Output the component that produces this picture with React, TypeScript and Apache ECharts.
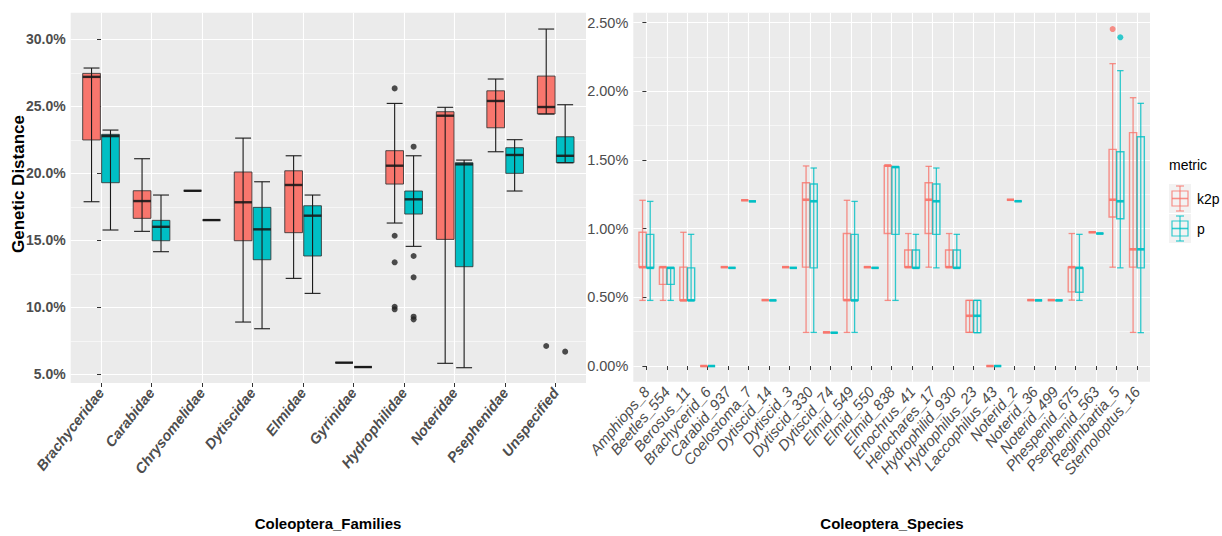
import React, { useEffect, useRef } from "react";
import * as echarts from "echarts";

// ---------- DATA ----------
const families = [
  "Brachyceridae", "Carabidae", "Chrysomelidae", "Dytiscidae", "Elmidae",
  "Gyrinidae", "Hydrophilidae", "Noteridae", "Psephenidae", "Unspecified",
];
// [min, q1, median, q3, max] in %
const familyK2p = [
  [17.88, 22.49, 27.2, 27.46, 27.86],
  [15.67, 16.64, 17.93, 18.7, 21.09],
  [18.7, 18.7, 18.7, 18.7, 18.7],
  [8.9, 14.97, 17.84, 20.1, 22.63],
  [12.16, 15.57, 19.13, 20.19, 21.31],
  [5.87, 5.87, 5.87, 5.87, 5.87],
  [16.29, 19.2, 20.57, 21.69, 25.22],
  [5.82, 15.07, 24.3, 24.6, 24.93],
  [21.61, 23.4, 25.4, 26.16, 27.04],
  [24.43, 24.43, 24.95, 27.26, 30.77],
];
const familyP = [
  [15.77, 19.3, 22.78, 22.91, 23.23],
  [14.15, 14.97, 16.01, 16.49, 18.38],
  [16.51, 16.51, 16.51, 16.51, 16.51],
  [8.4, 13.55, 15.82, 17.46, 19.37],
  [11.04, 13.83, 16.84, 17.58, 18.38],
  [5.54, 5.54, 5.54, 5.54, 5.54],
  [14.55, 16.96, 18.06, 18.68, 21.31],
  [5.49, 13.03, 20.67, 20.79, 20.99],
  [18.68, 20.0, 21.37, 21.91, 22.51],
  [20.79, 20.79, 21.31, 22.73, 25.12],
];
// [category index, value]
const familyOutK2p = [[6, 26.34], [6, 15.34], [6, 13.36], [6, 10.04], [6, 9.85], [9, 7.11]];
const familyOutP = [[6, 21.99], [6, 13.83], [6, 12.24], [6, 9.3], [6, 9.1], [9, 6.69]];

const species = [
  "Amphiops_8", "Beetles_554", "Berosus_11", "Brachycerid_6", "Carabid_937",
  "Coelostoma_7", "Dytiscid_14", "Dytiscid_3", "Dytiscid_330", "Dytiscid_74",
  "Elmid_549", "Elmid_550", "Elmid_838", "Enochrus_41", "Helochares_17",
  "Hydrophilid_930", "Hydrophilus_23", "Laccophilus_43", "Noterid_2", "Noterid_36",
  "Noterid_499", "Phespenid_675", "Psephenid_563", "Regimbartia_5", "Sternoloptus_16",
];
const speciesK2p = [
  [0.478, 0.72, 0.72, 0.974, 1.207],
  [0.478, 0.595, 0.72, 0.72, 0.72],
  [0.478, 0.478, 0.478, 0.72, 0.974],
  [0, 0, 0, 0, 0],
  [0.72, 0.72, 0.72, 0.72, 0.72],
  [1.207, 1.207, 1.207, 1.207, 1.207],
  [0.48, 0.48, 0.48, 0.48, 0.48],
  [0.72, 0.72, 0.72, 0.72, 0.72],
  [0.245, 0.72, 1.211, 1.335, 1.457],
  [0.245, 0.245, 0.245, 0.245, 0.245],
  [0.245, 0.48, 0.48, 0.965, 1.207],
  [0.72, 0.72, 0.72, 0.72, 0.72],
  [0.478, 0.965, 1.459, 1.459, 1.464],
  [0.72, 0.72, 0.72, 0.845, 0.965],
  [0.72, 0.965, 1.211, 1.335, 1.454],
  [0.72, 0.72, 0.72, 0.845, 0.965],
  [0.245, 0.245, 0.366, 0.478, 0.478],
  [0, 0, 0, 0, 0],
  [1.211, 1.211, 1.211, 1.211, 1.211],
  [0.48, 0.48, 0.48, 0.48, 0.48],
  [0.48, 0.48, 0.48, 0.48, 0.48],
  [0.48, 0.54, 0.72, 0.72, 0.965],
  [0.974, 0.974, 0.974, 0.974, 0.974],
  [0.72, 1.085, 1.211, 1.578, 2.202],
  [0.245, 0.72, 0.85, 1.7, 1.954],
];
const speciesP = [
  [0.478, 0.715, 0.715, 0.959, 1.199],
  [0.478, 0.595, 0.715, 0.715, 0.715],
  [0.478, 0.478, 0.478, 0.715, 0.959],
  [0, 0, 0, 0, 0],
  [0.715, 0.715, 0.715, 0.715, 0.715],
  [1.199, 1.199, 1.199, 1.199, 1.199],
  [0.478, 0.478, 0.478, 0.478, 0.478],
  [0.715, 0.715, 0.715, 0.715, 0.715],
  [0.245, 0.715, 1.2, 1.326, 1.442],
  [0.243, 0.243, 0.243, 0.243, 0.243],
  [0.245, 0.478, 0.478, 0.959, 1.199],
  [0.715, 0.715, 0.715, 0.715, 0.715],
  [0.478, 0.959, 1.449, 1.449, 1.449],
  [0.715, 0.715, 0.715, 0.845, 0.959],
  [0.715, 0.959, 1.2, 1.326, 1.442],
  [0.715, 0.715, 0.715, 0.845, 0.959],
  [0.243, 0.243, 0.366, 0.478, 0.478],
  [0, 0, 0, 0, 0],
  [1.2, 1.2, 1.2, 1.2, 1.2],
  [0.478, 0.478, 0.478, 0.478, 0.478],
  [0.478, 0.478, 0.478, 0.478, 0.478],
  [0.478, 0.537, 0.715, 0.715, 0.959],
  [0.965, 0.965, 0.965, 0.965, 0.965],
  [0.715, 1.073, 1.2, 1.561, 2.151],
  [0.243, 0.715, 0.85, 1.67, 1.913],
];
const speciesOutK2p = [[23, 2.454]];
const speciesOutP = [[23, 2.394]];

const familyTicks = [5, 10, 15, 20, 25, 30];
const familyMinor = [7.5, 12.5, 17.5, 22.5, 27.5];
const speciesTicks = [0, 0.5, 1, 1.5, 2, 2.5];
const speciesMinor = [0.25, 0.75, 1.25, 1.75, 2.25];

const metrics = ["k2p", "p"];
const RED = "#F8766D";
const TEAL = "#00BFC4";
const FONT = "'Liberation Sans', Arial, sans-serif";
const DODGE = 0.1875;
const HALF = 0.175;

function boxRenderer(offset: number, filled: boolean, color: string) {
  return (params: any, api: any) => {
    const x = api.value(0) + offset;
    const mn = api.value(1), q1 = api.value(2), md = api.value(3), q3 = api.value(4), mx = api.value(5);
    const tl = api.coord([x - HALF, q3]);
    const br = api.coord([x + HALF, q1]);
    const ml = api.coord([x - HALF, md]);
    const mr = api.coord([x + HALF, md]);
    const top = api.coord([x, mx]);
    const bot = api.coord([x, mn]);
    const cl = api.coord([x - HALF * 0.9, mx]);
    const cr = api.coord([x + HALF * 0.9, mx]);
    const bl = api.coord([x - HALF * 0.9, mn]);
    const brr = api.coord([x + HALF * 0.9, mn]);
    const lineCol = filled ? "#1a1a1a" : color;
    const lineOp = filled ? 1 : 0.8;
    const children: any[] = [];
    children.push({
      type: "rect",
      shape: { x: tl[0], y: tl[1], width: br[0] - tl[0], height: Math.max(br[1] - tl[1], 0) },
      style: filled
        ? { fill: color, stroke: "rgba(51,51,51,0.85)", lineWidth: 1 }
        : { fill: "rgba(0,0,0,0)", stroke: color, lineWidth: 1.4, opacity: 0.8 },
    });
    children.push({
      type: "line",
      shape: { x1: ml[0], y1: ml[1], x2: mr[0], y2: mr[1] },
      style: { stroke: lineCol, lineWidth: filled ? 2.4 : 2.6, opacity: filled ? 0.9 : 0.95 },
    });
    children.push({
      type: "line",
      shape: { x1: top[0], y1: top[1], x2: bot[0], y2: bot[1] },
      style: { stroke: lineCol, lineWidth: filled ? 1.1 : 1.3, opacity: lineOp },
    });
    children.push({
      type: "line",
      shape: { x1: cl[0], y1: cl[1], x2: cr[0], y2: cr[1] },
      style: { stroke: lineCol, lineWidth: filled ? 1.1 : 1.3, opacity: lineOp },
    });
    children.push({
      type: "line",
      shape: { x1: bl[0], y1: bl[1], x2: brr[0], y2: brr[1] },
      style: { stroke: lineCol, lineWidth: filled ? 1.1 : 1.3, opacity: lineOp },
    });
    return { type: "group", children };
  };
}

function toData(stats: number[][]) {
  return stats.map((s, i) => [i, ...s]);
}

export default function App() {
  const ref = useRef<HTMLDivElement>(null);
  useEffect(() => {
    if (!ref.current) return;
    const chart = echarts.init(ref.current, null, { renderer: "svg" });
    const axisLabelBase = { color: "#4D4D4D", fontFamily: FONT };
    const tickStyle = { color: "#333333", width: 1 };
    const option: any = {
      animation: false,
      backgroundColor: "#ffffff",
      grid: [
        { left: 70.7, top: 12.7, width: 515.3, height: 370.3, show: true, backgroundColor: "#EBEBEB", borderWidth: 0 },
        { left: 633.3, top: 12.7, width: 516.7, height: 369, show: true, backgroundColor: "#EBEBEB", borderWidth: 0 },
      ],
      xAxis: [
        {
          gridIndex: 0, type: "value", min: -0.6, max: 9.6,
          axisLine: { show: false },
          axisTick: { show: true, customValues: families.map((_, i) => i), length: 4, lineStyle: tickStyle },
          axisLabel: {
            ...axisLabelBase, customValues: families.map((_, i) => i),
            formatter: (v: number) => families[Math.round(v)] ?? "",
            rotate: 52, fontSize: 14.5, fontWeight: "bold", fontStyle: "italic", margin: 7,
          },
          splitLine: { show: true, lineStyle: { color: "#ffffff", width: 1.1 } },
        },
        {
          gridIndex: 1, type: "value", min: -0.64, max: 24.64,
          axisLine: { show: false },
          axisTick: { show: true, customValues: species.map((_, i) => i), length: 4, lineStyle: tickStyle },
          axisLabel: {
            ...axisLabelBase, customValues: species.map((_, i) => i),
            formatter: (v: number) => species[Math.round(v)] ?? "",
            rotate: 50, fontSize: 15, fontStyle: "italic", margin: 7,
          },
          splitLine: { show: true, lineStyle: { color: "#ffffff", width: 1.1 } },
        },
      ],
      yAxis: [
        {
          gridIndex: 0, type: "value", min: 4.35, max: 31.99,
          axisLine: { show: false },
          axisTick: { show: true, customValues: familyTicks, length: 4, lineStyle: tickStyle },
          axisLabel: {
            ...axisLabelBase, customValues: familyTicks, fontSize: 14, fontWeight: "bold", margin: 5,
            formatter: (v: number) => v.toFixed(1) + "%",
          },
          splitLine: { show: true, lineStyle: { color: "#ffffff", width: 1.1 } },
        },
        {
          gridIndex: 0, type: "value", min: 4.35, max: 31.99, position: "left",
          axisLine: { show: false },
          axisTick: { show: false, customValues: familyMinor },
          axisLabel: { show: false, customValues: familyMinor },
          splitLine: { show: true, lineStyle: { color: "#ffffff", width: 0.55 } },
        },
        {
          gridIndex: 1, type: "value", min: -0.114, max: 2.573,
          axisLine: { show: false },
          axisTick: { show: true, customValues: speciesTicks, length: 4, lineStyle: tickStyle },
          axisLabel: {
            ...axisLabelBase, customValues: speciesTicks, fontSize: 14.5, margin: 5,
            formatter: (v: number) => v.toFixed(2) + "%",
          },
          splitLine: { show: true, lineStyle: { color: "#ffffff", width: 1.1 } },
        },
        {
          gridIndex: 1, type: "value", min: -0.114, max: 2.573, position: "left",
          axisLine: { show: false },
          axisTick: { show: false, customValues: speciesMinor },
          axisLabel: { show: false, customValues: speciesMinor },
          splitLine: { show: true, lineStyle: { color: "#ffffff", width: 0.55 } },
        },
      ],
      series: [
        { type: "custom", name: "k2p", xAxisIndex: 0, yAxisIndex: 0, renderItem: boxRenderer(-DODGE, true, RED), data: toData(familyK2p), z: 3 },
        { type: "custom", name: "p", xAxisIndex: 0, yAxisIndex: 0, renderItem: boxRenderer(DODGE, true, TEAL), data: toData(familyP), z: 3 },
        {
          type: "scatter", xAxisIndex: 0, yAxisIndex: 0, symbolSize: 6, itemStyle: { color: "#222222" }, z: 4,
          data: familyOutK2p.map(([i, v]) => [i - DODGE, v]),
        },
        {
          type: "scatter", xAxisIndex: 0, yAxisIndex: 0, symbolSize: 6, itemStyle: { color: "#222222" }, z: 4,
          data: familyOutP.map(([i, v]) => [i + DODGE, v]),
        },
        { type: "custom", name: "k2p", xAxisIndex: 1, yAxisIndex: 2, renderItem: boxRenderer(-DODGE, false, RED), data: toData(speciesK2p), z: 3 },
        { type: "custom", name: "p", xAxisIndex: 1, yAxisIndex: 2, renderItem: boxRenderer(DODGE, false, TEAL), data: toData(speciesP), z: 3 },
        {
          type: "scatter", xAxisIndex: 1, yAxisIndex: 2, symbolSize: 6, itemStyle: { color: RED }, z: 4,
          data: speciesOutK2p.map(([i, v]) => [i - DODGE, v]),
        },
        {
          type: "scatter", xAxisIndex: 1, yAxisIndex: 2, symbolSize: 6, itemStyle: { color: TEAL }, z: 4,
          data: speciesOutP.map(([i, v]) => [i + DODGE, v]),
        },
      ],
      graphic: [
        {
          type: "text", x: 18, y: 184, rotation: Math.PI / 2,
          style: { text: "Genetic Distance", font: `bold 17px ${FONT}`, fill: "#000", align: "center", verticalAlign: "middle" },
        },
        {
          type: "text", x: 328, y: 523,
          style: { text: "Coleoptera_Families", font: `bold 15px ${FONT}`, fill: "#000", align: "center", verticalAlign: "middle" },
        },
        {
          type: "text", x: 892, y: 523,
          style: { text: "Coleoptera_Species", font: `bold 15px ${FONT}`, fill: "#000", align: "center", verticalAlign: "middle" },
        },
        {
          type: "text", x: 1169, y: 165,
          style: { text: "metric", font: `14px ${FONT}`, fill: "#000", align: "left", verticalAlign: "middle" },
        },
        ...metrics.flatMap((m, k) => {
          const col = k === 0 ? RED : TEAL;
          const y0 = 184 + k * 30;
          return [
            { type: "rect", shape: { x: 1169, y: y0, width: 22, height: 29 }, style: { fill: "#F2F2F2" } },
            { type: "line", shape: { x1: 1180, y1: y0 + 2, x2: 1180, y2: y0 + 27 }, style: { stroke: col, lineWidth: 1.2, opacity: 0.8 } },
            { type: "line", shape: { x1: 1176, y1: y0 + 2, x2: 1184, y2: y0 + 2 }, style: { stroke: col, lineWidth: 1.2, opacity: 0.8 } },
            { type: "line", shape: { x1: 1176, y1: y0 + 27, x2: 1184, y2: y0 + 27 }, style: { stroke: col, lineWidth: 1.2, opacity: 0.8 } },
            { type: "rect", shape: { x: 1172, y: y0 + 7, width: 16, height: 15 }, style: { fill: "#F2F2F2", stroke: col, lineWidth: 1.2, opacity: 0.8 } },
            { type: "line", shape: { x1: 1172, y1: y0 + 14.5, x2: 1188, y2: y0 + 14.5 }, style: { stroke: col, lineWidth: 1.6, opacity: 0.8 } },
            { type: "line", shape: { x1: 1180, y1: y0 + 7, x2: 1180, y2: y0 + 22 }, style: { stroke: col, lineWidth: 1.2, opacity: 0.8 } },
            {
              type: "text", x: 1197, y: y0 + 15,
              style: { text: m, font: `14px ${FONT}`, fill: "#000", align: "left", verticalAlign: "middle" },
            },
          ];
        }),
      ],
    };
    chart.setOption(option);
    return () => chart.dispose();
  }, []);
  return (
    <div
      ref={ref}
      style={{ position: "absolute", left: 0, top: 0, width: 1222, height: 536, background: "#fff" }}
    />
  );
}
